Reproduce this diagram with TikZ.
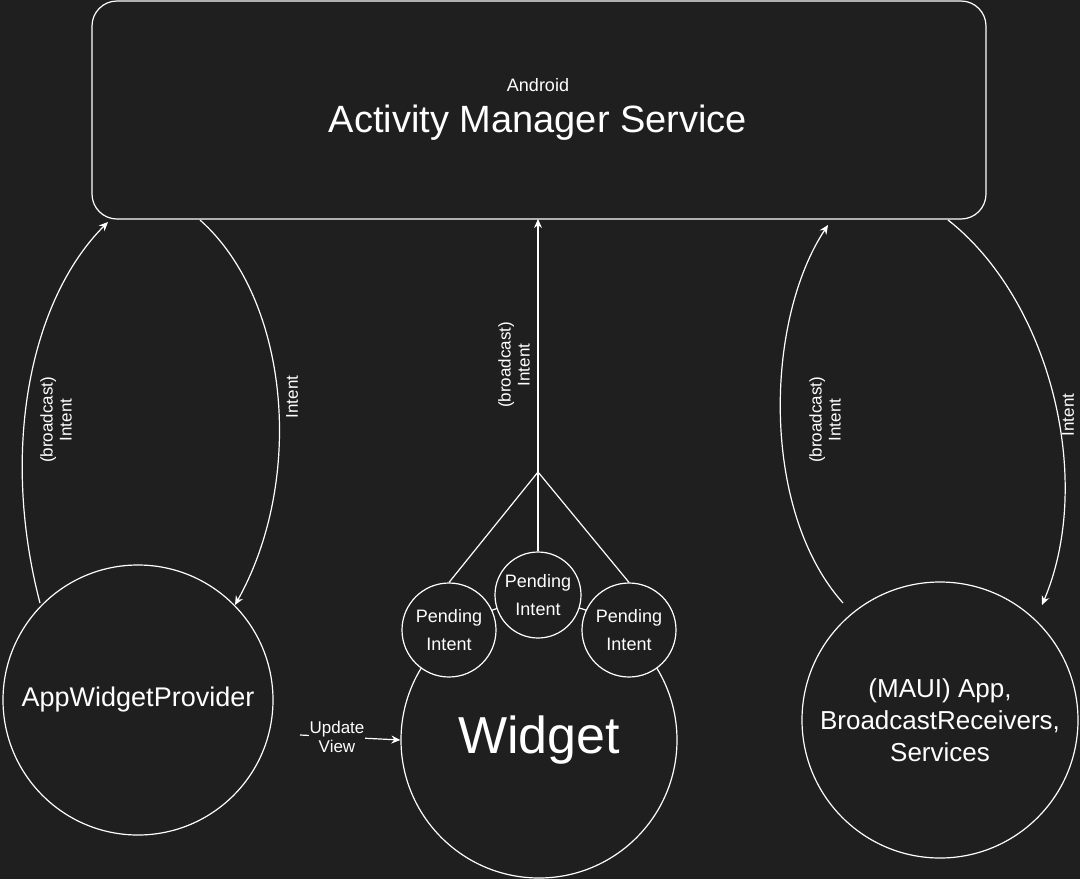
\documentclass[tikz,border=0pt]{standalone}
\usepackage{fontspec}
\setmainfont{Liberation Sans}
\usetikzlibrary{arrows.meta}
\begin{document}
\begin{tikzpicture}[x=1pt,y=-1pt,
  ln/.style={white,line width=1.2pt},
  ar/.style={ln,-{Stealth[length=9pt,width=8pt]}},
  lbl/.style={white,font=\fontsize{17}{19}\selectfont,align=center}]
\fill[black!88] (0,0) rectangle (1080,879);
\useasboundingbox (0,0) rectangle (1080,879);
\draw[ln,rounded corners=25] (92,1) rectangle (986,219);
\node[white,font=\fontsize{18}{20}\selectfont] (and) at (538,85) {Android};
\node[white,font=\fontsize{38}{42}\selectfont] (ams) at (538,123) {Activity Manager Service};
\node[ln,draw,circle,minimum size=270pt,font=\fontsize{27}{30}\selectfont] (awp) at (138,700) {AppWidgetProvider};
\node[ln,draw,circle,minimum size=276pt,font=\fontsize{52}{56}\selectfont] (w) at (539,740) {Widget};
\node[ln,draw,circle,minimum size=276pt,align=center,font=\fontsize{26}{32}\selectfont] (app) at (940,720) {(MAUI) App,\\BroadcastReceivers,\\Services};
\foreach \n/\x/\y/\r in {p1/449/630/94, p2/538/595/86, p3/629/630/94}
  \node[ln,draw,circle,fill=black!88,minimum size=\r pt,inner sep=0,align=center,font=\fontsize{18}{28}\selectfont] (\n) at (\x,\y) {Pending\\Intent};
\coordinate (hub) at (538,472);
\coordinate (top) at (538,219);
\draw[ln] (hub) -- (p1.north); \draw[ln] (hub) -- (p2.north); \draw[ln] (hub) -- (p3.north);
\draw[ar] (hub) -- (top);
\node[lbl,rotate=90] at (514,365) {(broadcast)\\Intent};
\coordinate (a1) at (40,603); \coordinate (a2) at (108,222);
\draw[ar] (a1) .. controls (0,450) and (30,300) .. (a2);
\node[lbl,rotate=90] at (56,420) {(broadcast)\\Intent};
\coordinate (b1) at (200,220); \coordinate (b2) at (235,605);
\draw[ar] (b1) .. controls (290,300) and (305,480) .. (b2);
\node[lbl,rotate=90] at (292,397) {Intent};
\coordinate (c1) at (843,603); \coordinate (c2) at (828,225);
\draw[ar] (c1) .. controls (760,510) and (765,320) .. (c2);
\node[lbl,rotate=90] at (825,420) {(broadcast)\\Intent};
\coordinate (d1) at (948,220); \coordinate (d2) at (1042,605);
\draw[ar] (d1) .. controls (1050,300) and (1095,480) .. (d2);
\node[lbl,rotate=90] at (1068,415) {Intent};
\coordinate (u1) at (300,735);
\draw[ar] (u1) -- (w.west);
\node[lbl,fill=black!88,inner sep=1pt] at (337,737) {Update\\View};
\end{tikzpicture}
\end{document}
